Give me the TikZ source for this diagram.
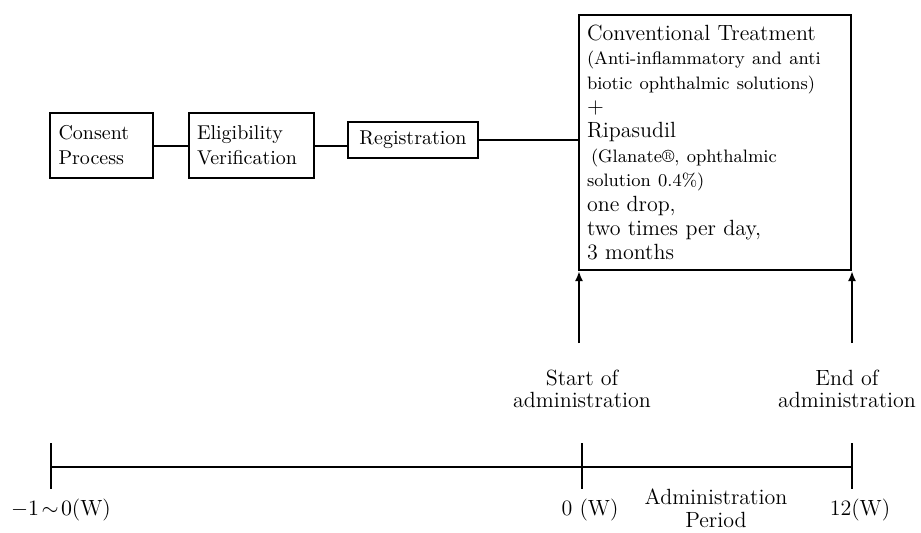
\documentclass[tikz,border=0pt]{standalone}
\usepackage{amsmath, amssymb}
\usepackage{xcolor}
\usepackage{tikz}
\usetikzlibrary{arrows.meta, positioning, calc}

\tikzset{
  stagebox/.style={draw, line width=1pt, align=left, inner xsep=4pt, minimum height=32.5pt, font=\fontsize{10}{12.5}\selectfont},
  period/.style={line width=1pt},
  tipline/.style={line width=1pt, -{Latex[length=5pt, width=4pt]}},
  timelbl/.style={align=center, font=\fontsize{11}{11}\selectfont},
}

\begin{document}
\begin{tikzpicture}[x=0.5pt, y=-0.5pt]
  \useasboundingbox (0,0) rectangle (921,532);

  % Steps before administration
  \node[stagebox, inner xsep=4.5pt, text width=42.5pt] (consent) at (101,145.5) {Consent\\Process};
  \node[stagebox, text width=54.5pt] (elig) at (251.5,145.5) {Eligibility\\Verification};
  \node[stagebox, minimum width=65pt, minimum height=18pt] (regist) at (413,140) {Registration};

  % Treatment box
  \node[draw, line width=1pt, anchor=north west, text width=128pt, inner xsep=4pt, minimum height=127.5pt,
        align=left, font=\fontsize{11}{12.2}\selectfont] (treat) at (578,14) {%
    Conventional Treatment\\
    {\fontsize{9}{12.2}\selectfont (Anti-inflammatory and anti}\\
    {\fontsize{9}{12.2}\selectfont biotic ophthalmic solutions)}\\
    +\\
    Ripasudil\\
    {\fontsize{9}{12.2}\selectfont \hspace{2pt}(Glanate\textregistered, ophthalmic}\\
    {\fontsize{9}{12.2}\selectfont solution 0.4\%)}\\
    one drop,\\
    two times per day,\\
    3 months};

  \draw[period] (consent) -- (elig);
  \draw[period] (elig.east) -- (elig.east -| regist.west);
  \draw[period] (regist.east) -- (regist.east -| treat.west);

  % Start / end of administration
  \node[timelbl] (startlbl) at (582,389) {Start of\\administration};
  \node[timelbl] (endlbl) at (847,389) {End of\\administration};
  \coordinate (startfoot) at (579,343);
  \coordinate (endfoot) at (treat.south east |- startfoot);
  \draw[tipline] (startfoot) -- (startfoot |- treat.south);
  \draw[tipline] (endfoot) -- (treat.south east);

  % Time line
  \coordinate (w0) at (51,467);
  \coordinate (w1) at (582,467);
  \coordinate (w2) at (852,467);
  \draw[period] (w0) -- (w2);
  \foreach \t in {w0,w1,w2}
    \draw[period] ($(\t)+(0,-24)$) -- ($(\t)+(0,22)$);

  \node[timelbl] (wpre) at (61,510) {$-1\!\sim\!0$(W)};
  \node[timelbl] (wzero) at (590,510) {0 (W)};
  \node[timelbl] (wend) at (860,510) {12(W)};
  \node[timelbl, font=\fontsize{11}{11.5}\selectfont] (adminper) at (716,508) {Administration\\Period};
\end{tikzpicture}
\end{document}
